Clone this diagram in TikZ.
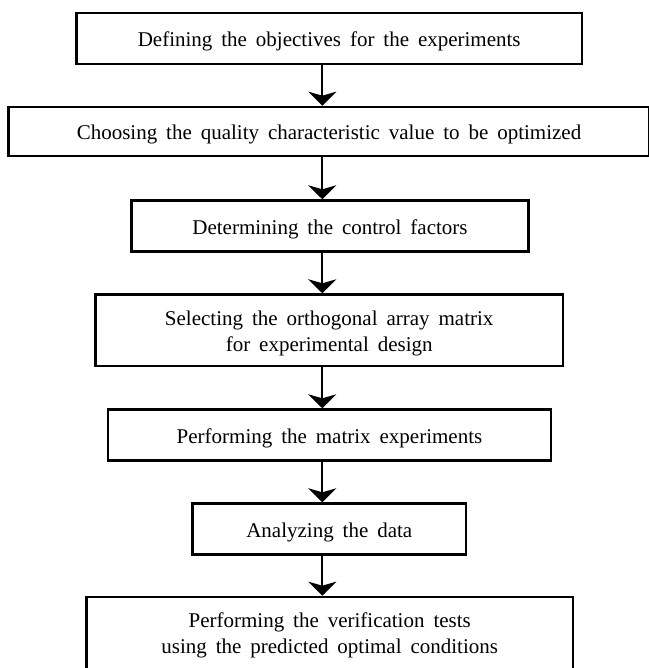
\documentclass[tikz,border=0pt]{standalone}
\usepackage{fontspec}
\setmainfont[WordSpace=1.7]{Liberation Serif}
\usetikzlibrary{arrows.meta}
\begin{document}
\begin{tikzpicture}[x=1pt,y=-1pt,
  box/.style={draw, line width=2.7pt, inner sep=0pt},
  txt/.style={align=center, inner sep=0pt, yshift=-3pt, font=\fontsize{21}{26.5}\selectfont},
  flow/.style={line width=2.3pt, -{Stealth[length=14pt,width=28pt,inset=4pt]}}]
\useasboundingbox (0,0) rectangle (648,668);
\node[box, minimum width=505.6pt, minimum height=50.9pt,
  label={[txt]center:Defining the objectives for the experiments}] (b1) at (329.2,38.5) {};
\node[box, minimum width=641.3pt, minimum height=48.9pt,
  label={[txt]center:Choosing the quality characteristic value to be optimized}] (b2) at (329,131.5) {};
\node[box, minimum width=397.3pt, minimum height=50.7pt,
  label={[txt]center:Determining the control factors}] (b3) at (330,226) {};
\node[box, minimum width=467.8pt, minimum height=71.3pt,
  label={[txt]center:Selecting the orthogonal array matrix\\for experimental design}] (b4) at (329.2,330.3) {};
\node[box, minimum width=443.2pt, minimum height=50.7pt,
  label={[txt]center:Performing the matrix experiments}] (b5) at (329.5,435) {};
\node[box, minimum width=273.4pt, minimum height=51pt,
  label={[txt]center:Analyzing the data}] (b6) at (329.3,529.15) {};
\node[box, minimum width=486.7pt, minimum height=74pt,
  label={[txt, yshift=1.5pt]center:Performing the verification tests\\using the predicted optimal conditions}] (b7) at (329.7,634.05) {};
\coordinate (ax) at (322.3,0);
\draw[flow] (b1.south -| ax) -- (b2.north -| ax);
\draw[flow] (b2.south -| ax) -- (b3.north -| ax);
\draw[flow] (b3.south -| ax) -- (b4.north -| ax);
\draw[flow] (b4.south -| ax) -- (b5.north -| ax);
\draw[flow] (b5.south -| ax) -- (b6.north -| ax);
\draw[flow] (b6.south -| ax) -- (b7.north -| ax);
\end{tikzpicture}
\end{document}
